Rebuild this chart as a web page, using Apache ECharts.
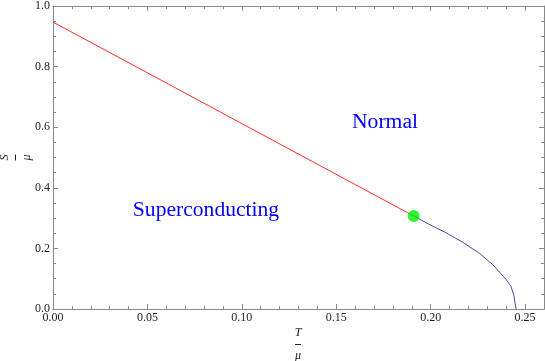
<!DOCTYPE html>
<html>
<head>
<meta charset="utf-8">
<script src="https://cdn.jsdelivr.net/npm/echarts@6/dist/echarts.min.js"></script>
<style>
  html, body { margin: 0; padding: 0; background: #fff; }
  #phaseChart { width: 545px; height: 361px; }
</style>
</head>
<body>
<div id="phaseChart"></div>
<script>
  // boundary between the two phases
  var redLine = [[0, 0.947], [0.191, 0.307]];
  var blueCurve = [
    [0.191, 0.307], [0.199, 0.280], [0.208, 0.252], [0.217, 0.220],
    [0.2258, 0.184], [0.2329, 0.146], [0.240, 0.097], [0.2425, 0.075],
    [0.244, 0.046], [0.2452, 0.0]
  ];
  var criticalPoint = [[0.191, 0.307]];
  var regionLabels = ['Normal', 'Superconducting'];

  var serif = 'Liberation Serif';
  var frameColor = '#888';

  function xAxisOf(pos, interval, tickLen, showLabel) {
    return {
      type: 'value', position: pos, min: 0, max: 0.26, interval: interval,
      axisLine: { show: true, onZero: false, lineStyle: { color: frameColor, width: 1 } },
      axisTick: { show: true, inside: true, length: tickLen, lineStyle: { color: frameColor } },
      axisLabel: {
        show: showLabel, showMaxLabel: false, margin: 3,
        fontFamily: serif, fontSize: 12, color: '#222',
        formatter: function (v) { return v.toFixed(2); }
      },
      splitLine: { show: false }
    };
  }
  function yAxisOf(pos, showLabel) {
    return {
      type: 'value', position: pos, min: 0, max: 1, interval: 0.2,
      axisLine: { show: true, onZero: false, lineStyle: { color: frameColor, width: 1 } },
      axisTick: { show: true, inside: true, length: 5, lineStyle: { color: frameColor } },
      minorTick: { show: true, splitNumber: 4, length: 3, lineStyle: { color: frameColor } },
      axisLabel: {
        show: showLabel, margin: 3,
        fontFamily: serif, fontSize: 12, color: '#222',
        formatter: function (v) { return v.toFixed(1); }
      },
      splitLine: { show: false }, minorSplitLine: { show: false }
    };
  }

  function label(txt, x, y, size, color, italic, rot) {
    return {
      type: 'text', x: x, y: y, rotation: rot || 0,
      style: {
        text: txt, fontFamily: serif, fontSize: size, fontStyle: italic ? 'italic' : 'normal',
        fill: color, align: 'center', verticalAlign: 'middle'
      }
    };
  }

  var myChart = echarts.init(document.getElementById('phaseChart'));
  myChart.setOption({
    animation: false,
    textStyle: { fontFamily: serif },
    grid: { left: 53, right: 1, top: 6, bottom: 52, containLabel: false },
    xAxis: [
      xAxisOf('bottom', 0.05, 5, true),
      xAxisOf('bottom', 0.01, 3, false),
      xAxisOf('top', 0.05, 5, false),
      xAxisOf('top', 0.01, 3, false)
    ],
    yAxis: [yAxisOf('left', true), yAxisOf('right', false)],
    series: [
      {
        type: 'line', data: redLine, showSymbol: false,
        lineStyle: { color: '#ff2a2a', width: 1 }, z: 2
      },
      {
        type: 'line', data: blueCurve, showSymbol: false,
        lineStyle: { color: '#4848b0', width: 1 }, z: 2
      },
      {
        type: 'scatter', data: criticalPoint, symbolSize: 12,
        itemStyle: { color: '#00ee00' }, z: 3
      }
    ],
    graphic: [
      label(regionLabels[0], 385, 122.3, 21.6, '#0000ff', false),
      label(regionLabels[1], 206, 210.6, 21.6, '#0000ff', false),
      // x axis name: T over mu
      label('T', 298, 333, 12, '#222', true),
      { type: 'line', shape: { x1: 295, y1: 344.5, x2: 301, y2: 344.5 }, style: { stroke: '#222', lineWidth: 1 } },
      label('μ', 298, 356, 12, '#222', true),
      // y axis name: S over mu, turned
      label('S', 5, 157.5, 12, '#222', true, Math.PI / 2),
      { type: 'line', shape: { x1: 15.5, y1: 154.5, x2: 15.5, y2: 160.5 }, style: { stroke: '#222', lineWidth: 1 } },
      label('μ', 27, 157.5, 12, '#222', true, Math.PI / 2)
    ]
  });
</script>
</body>
</html>
